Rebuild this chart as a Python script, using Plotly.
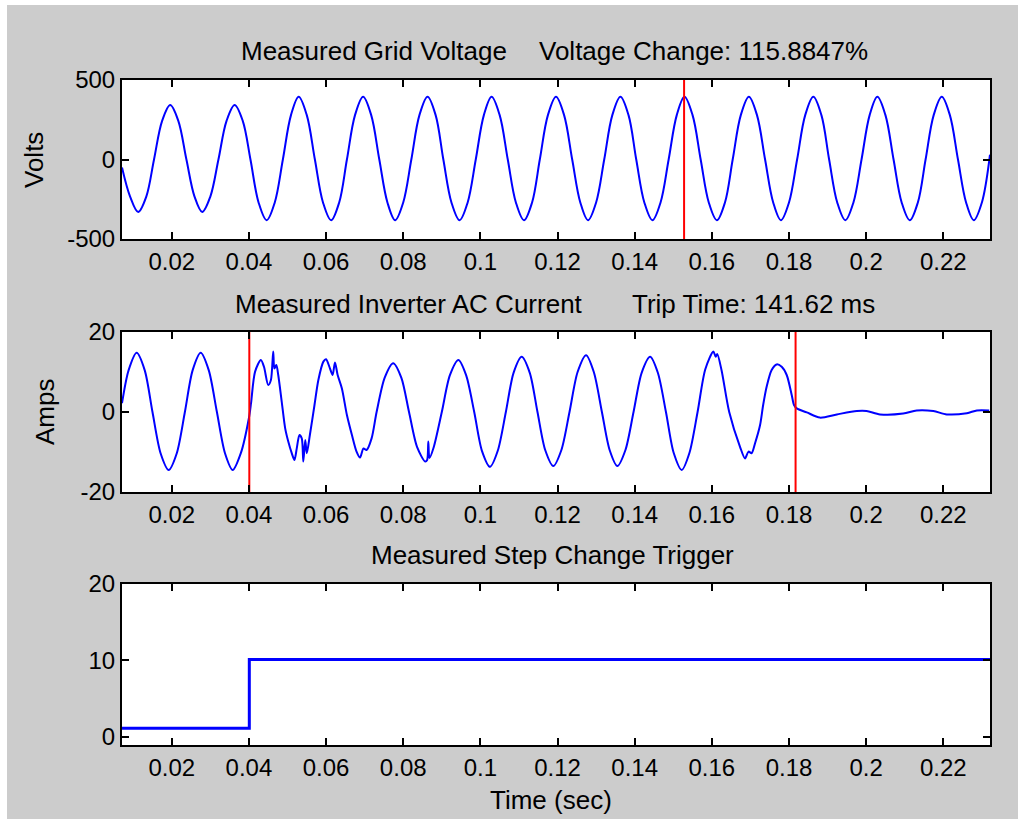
import plotly.graph_objects as go

# ---------------- data ----------------
volt_t = [0.0071, 0.0092, 0.0113, 0.0134, 0.0154, 0.0175, 0.0196, 0.0217, 0.0238, 0.0259,
          0.0279, 0.0300, 0.0321, 0.0342, 0.0363, 0.0384, 0.0404, 0.0425, 0.0446, 0.0467,
          0.0488, 0.0509, 0.0529, 0.0550, 0.0571, 0.0592, 0.0613, 0.0634, 0.0654, 0.0675,
          0.0696, 0.0717, 0.0738, 0.0759, 0.0779, 0.0800, 0.0821, 0.0842, 0.0863, 0.0884,
          0.0904, 0.0925, 0.0946, 0.0967, 0.0988, 0.1009, 0.1029, 0.1050, 0.1071, 0.1092,
          0.1113, 0.1134, 0.1154, 0.1175, 0.1196, 0.1217, 0.1238, 0.1259, 0.1279, 0.1300,
          0.1321, 0.1342, 0.1363, 0.1384, 0.1404, 0.1425, 0.1446, 0.1467, 0.1488, 0.1509,
          0.1529, 0.1550, 0.1571, 0.1592, 0.1613, 0.1634, 0.1654, 0.1675, 0.1696, 0.1717,
          0.1738, 0.1759, 0.1779, 0.1800, 0.1821, 0.1842, 0.1863, 0.1884, 0.1904, 0.1925,
          0.1946, 0.1967, 0.1988, 0.2009, 0.2029, 0.2050, 0.2071, 0.2092, 0.2113, 0.2134,
          0.2154, 0.2175, 0.2196, 0.2217, 0.2238, 0.2259, 0.2279, 0.2300, 0.2321]
volt_v = [-50, -233, -330, -233, 0, 243, 343, 243, 0, -233,
          -330, -233, 0, 243, 343, 243, 0, -270, -382, -270,
          0, 279, 395, 279, 0, -270, -382, -270, 0, 279,
          395, 279, 0, -270, -382, -270, 0, 279, 395, 279,
          0, -270, -382, -270, 0, 279, 395, 279, 0, -270,
          -382, -270, 0, 279, 395, 279, 0, -270, -382, -270,
          0, 279, 395, 279, 0, -270, -382, -270, 0, 279,
          395, 279, 0, -270, -382, -270, 0, 279, 395, 279,
          0, -270, -382, -270, 0, 279, 395, 279, 0, -270,
          -382, -270, 0, 279, 395, 279, 0, -270, -382, -270,
          0, 279, 395, 279, 0, -270, -382, -270, 30]

curr_t = [0.0071, 0.0088, 0.0109, 0.0130, 0.0150, 0.0171, 0.0192, 0.0213, 0.0234, 0.0254,
          0.0275, 0.0296, 0.0317, 0.0338, 0.0358, 0.0379, 0.0400,
          0.04055, 0.0416, 0.0431, 0.0439, 0.0450, 0.0457, 0.0463, 0.0466, 0.0471, 0.0476,
          0.0485, 0.0494, 0.0502, 0.0511, 0.0518, 0.0524, 0.0531, 0.0537, 0.0541, 0.0546,
          0.0550, 0.0558, 0.0570, 0.0580, 0.0593, 0.0600, 0.0610, 0.0617, 0.0623, 0.0630,
          0.0641, 0.0654, 0.0667, 0.0679, 0.0688, 0.0697, 0.0705, 0.0718,
          0.0731, 0.0752, 0.0774, 0.0795, 0.0815, 0.0836, 0.0857, 0.0862, 0.0865, 0.0868,
          0.0879, 0.0900, 0.0921, 0.0943, 0.0963, 0.0984, 0.1004, 0.1025, 0.1045, 0.1066,
          0.1086, 0.1107, 0.1128, 0.1148, 0.1168, 0.1189, 0.1210, 0.1231, 0.1252, 0.1274,
          0.1294, 0.1315, 0.1335, 0.1355, 0.1376, 0.1397, 0.1418, 0.1440, 0.1460, 0.1481,
          0.1501, 0.1522, 0.1542, 0.1563, 0.1583, 0.1604, 0.1610, 0.1614, 0.1625, 0.1645,
          0.1673, 0.1686, 0.1695, 0.1703, 0.1712, 0.1725, 0.1733, 0.1742, 0.1755, 0.1768,
          0.1781, 0.1794, 0.1807, 0.1813, 0.1820, 0.1846, 0.1880, 0.1924, 0.1976, 0.2001,
          0.2036, 0.2096, 0.2131, 0.2174, 0.2209, 0.2261, 0.2287, 0.2319]
curr_v = [2.2, 10.4, 14.8, 10.4, 0, -10.3, -14.5, -10.3, 0, 10.4,
          14.8, 10.4, 0, -10.3, -14.5, -10.3, -1.5,
          2.2, 10.1, 13.0, 11.3, 6.75, 8.0, 15.1, 10.9, 11.75, 9.25,
          2.6, -4.1, -7.4, -10.3, -12.0, -9.1, -5.75, -6.6, -12.4, -7.0,
          -10.3, -5.75, 1.75, 8.0, 12.6, 13.2, 10.9, 9.25, 12.4, 9.25,
          5.9, -0.75, -5.75, -9.9, -11.4, -9.1, -9.5, -6.6,
          0, 8.6, 12.2, 8.6, 0, -8.8, -12.4, -12.0, -7.4, -11.5,
          -8.8, 0, 9.2, 13.0, 9.2, 0, -9.7, -13.7, -9.7, 0,
          9.8, 13.8, 9.8, 0, -9.5, -13.5, -9.5, 0, 10.0, 14.2,
          10.0, 0, -9.5, -13.5, -9.5, 0, 9.8, 13.8, 9.8, 0,
          -10.2, -14.5, -10.2, 0, 10.7, 15.1, 13.8, 14.5, 10.5, 0,
          -8.7, -11.6, -9.9, -10.3, -7.8, -3.25, 1.75, 6.3, 10.5, 11.9,
          11.3, 9.25, 4.25, 1.75, 0.9, -0.1, -1.4, -0.6, 0.25, 0.25,
          -0.6, -0.4, 0.4, 0.25, -0.6, -0.3, 0.4, 0.4]

trig_t = [0.0071, 0.0401, 0.0401, 0.2321]
trig_v = [1.1, 1.1, 10.1, 10.1]

voltage_change_t = 0.1528
trip_start_t = 0.0401
trip_end_t = 0.1817

x_range = [0.0071, 0.2321]
x_ticks = [0.02, 0.04, 0.06, 0.08, 0.1, 0.12, 0.14, 0.16, 0.18, 0.2, 0.22]
x_ticktext = ["0.02", "0.04", "0.06", "0.08", "0.1", "0.12", "0.14", "0.16", "0.18", "0.2", "0.22"]
y1_ticks, y1_text = [-500, 0, 500], ["-500", "0", "500"]
y2_ticks, y2_text = [-20, 0, 20], ["-20", "0", "20"]
y3_ticks, y3_text = [0, 10, 20], ["0", "10", "20"]

# ---------------- figure ----------------
W, H = 1018, 819
FONT = "Arial, Liberation Sans, Helvetica, sans-serif"
BLUE, RED = "#0000ff", "#ff0000"


def px(x):
    return x / W


def py(y):
    return 1 - y / H


fig = go.Figure()
fig.add_trace(go.Scatter(x=volt_t, y=volt_v, mode="lines", xaxis="x", yaxis="y",
                         line=dict(color=BLUE, width=2, shape="spline", smoothing=1.0)))
fig.add_trace(go.Scatter(x=[voltage_change_t, voltage_change_t], y=[-500, 500], mode="lines",
                         xaxis="x", yaxis="y", line=dict(color=RED, width=2)))
fig.add_trace(go.Scatter(x=curr_t, y=curr_v, mode="lines", xaxis="x2", yaxis="y2",
                         line=dict(color=BLUE, width=2, shape="spline", smoothing=0.8)))
for t in (trip_start_t, trip_end_t):
    fig.add_trace(go.Scatter(x=[t, t], y=[-20, 20], mode="lines", xaxis="x2", yaxis="y2",
                             line=dict(color=RED, width=2)))
fig.add_trace(go.Scatter(x=trig_t, y=trig_v, mode="lines", xaxis="x3", yaxis="y3",
                         line=dict(color=BLUE, width=3)))

xdom = [px(122), px(990)]
ydoms = [[py(239), py(80)], [py(492), py(332)], [py(745), py(584)]]
yticks = [(y1_ticks, y1_text, [-500, 500]), (y2_ticks, y2_text, [-20, 20]), (y3_ticks, y3_text, [-1.1, 20])]

axis_common = dict(showline=True, linecolor="black", linewidth=2, mirror="ticks",
                   ticks="inside", ticklen=7, tickwidth=2, tickcolor="black",
                   showgrid=False, zeroline=False,
                   tickfont=dict(family=FONT, size=24, color="black"))

layout = dict(width=W, height=H, margin=dict(l=0, r=0, t=0, b=0, autoexpand=False),
              paper_bgcolor="#cccccc", plot_bgcolor="white", showlegend=False)
for i in range(3):
    sfx = "" if i == 0 else str(i + 1)
    layout["xaxis" + sfx] = dict(domain=xdom, anchor="y" + sfx, range=x_range,
                                 tickvals=x_ticks, ticktext=x_ticktext, **axis_common)
    tv, tt, rg = yticks[i]
    layout["yaxis" + sfx] = dict(domain=ydoms[i], anchor="x" + sfx, range=rg,
                                 tickvals=tv, ticktext=tt, **axis_common)
fig.update_layout(**layout)

tfont = dict(family=FONT, size=26, color="black")
ann = [
    dict(text="Measured Grid Voltage", x=px(239), y=py(51), xanchor="left", yanchor="middle"),
    dict(text="Voltage Change: 115.8847%", x=px(537), y=py(51), xanchor="left", yanchor="middle"),
    dict(text="Measured Inverter AC Current", x=px(233), y=py(304), xanchor="left", yanchor="middle"),
    dict(text="Trip Time: 141.62 ms", x=px(630), y=py(304), xanchor="left", yanchor="middle"),
    dict(text="Measured Step Change Trigger", x=px(552), y=py(555), xanchor="center", yanchor="middle"),
    dict(text="Time (sec)", x=px(551), y=py(800), xanchor="center", yanchor="middle"),
    dict(text="Volts", x=px(34), y=py(160), xanchor="center", yanchor="middle", textangle=-90),
    dict(text="Amps", x=px(45), y=py(412), xanchor="center", yanchor="middle", textangle=-90),
]
for a in ann:
    fig.add_annotation(xref="paper", yref="paper", showarrow=False, font=tfont, **a)

# thin white border strip at top and left of the screenshot
fig.add_shape(type="rect", xref="paper", yref="paper", x0=0, x1=1, y0=py(5), y1=1,
              fillcolor="white", line=dict(width=0), layer="below")
fig.add_shape(type="rect", xref="paper", yref="paper", x0=0, x1=px(7), y0=0, y1=1,
              fillcolor="white", line=dict(width=0), layer="below")

# remove the default page margin so the figure sits at the window origin
js = "document.body.style.margin='0';document.body.style.overflow='hidden';window.scrollTo(0,0);"
fig.write_html("out.html", post_script=js)
